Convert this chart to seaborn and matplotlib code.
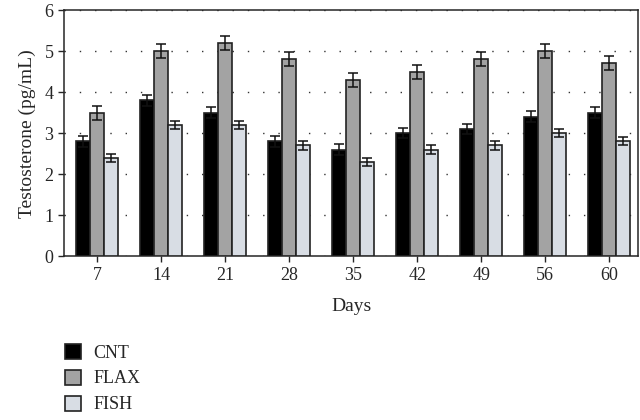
import seaborn as sns
import pandas as pd
import matplotlib.pyplot as plt
import numpy as np

days = ["7", "14", "21", "28", "35", "42", "49", "56", "60"]
groups = ["CNT", "FLAX", "FISH"]
cnt = [2.8, 3.8, 3.5, 2.8, 2.6, 3.0, 3.1, 3.4, 3.5]
flax = [3.5, 5.0, 5.2, 4.8, 4.3, 4.5, 4.8, 5.0, 4.7]
fish = [2.4, 3.2, 3.2, 2.7, 2.3, 2.6, 2.7, 3.0, 2.8]
cnt_err = [0.13] * 9
flax_err = [0.17] * 9
fish_err = [0.1] * 9

df = pd.DataFrame({
    "Days": days * 3,
    "Group": [g for g in groups for _ in days],
    "Value": cnt + flax + fish,
    "Err": cnt_err + flax_err + fish_err,
})

sns.set_style("ticks")
plt.rcParams["font.family"] = ["Liberation Serif", "DejaVu Serif"]

colors = ["#000000", "#a3a3a3", "#d6dce6"]
fig = plt.figure(figsize=(6.4, 4.2), dpi=100)
ax = fig.add_axes([0.1, 0.39, 0.897, 0.586])

sns.barplot(data=df, x="Days", y="Value", hue="Group", order=days, hue_order=groups,
            palette=colors, width=0.66, edgecolor="#222222", linewidth=1.2,
            errorbar=None, ax=ax, zorder=3)

# error bars at the bar centres
for cont, g in zip(ax.containers, groups):
    sub = df[df["Group"] == g]
    xs = [p.get_x() + p.get_width() / 2 for p in cont.patches]
    ax.errorbar(xs, sub["Value"].values, yerr=sub["Err"].values, fmt="none",
                ecolor="#111111", elinewidth=1.1, capsize=3.5, capthick=1.1, zorder=4)

ax.set_ylim(0, 6)
ax.set_xlim(-0.52, 8.45)
ax.set_yticks(range(7))
ax.yaxis.grid(True, linestyle=(0, (1, 10)), color="#333333", linewidth=1.0)
for s in ax.spines.values():
    s.set_visible(True)
    s.set_linewidth(1.1)
ax.tick_params(labelsize=13, length=4, width=1)
ax.set_xlabel("Days", fontsize=14, labelpad=10)
ax.set_ylabel("Testosterone (pg/mL)", fontsize=14, labelpad=6)

ax.legend(loc="upper left", bbox_to_anchor=(-0.027, -0.29), frameon=False, fontsize=13,
          handlelength=0.9, handleheight=0.9, handletextpad=0.7, labelspacing=0.45)

plt.savefig("out.png", dpi=100)
